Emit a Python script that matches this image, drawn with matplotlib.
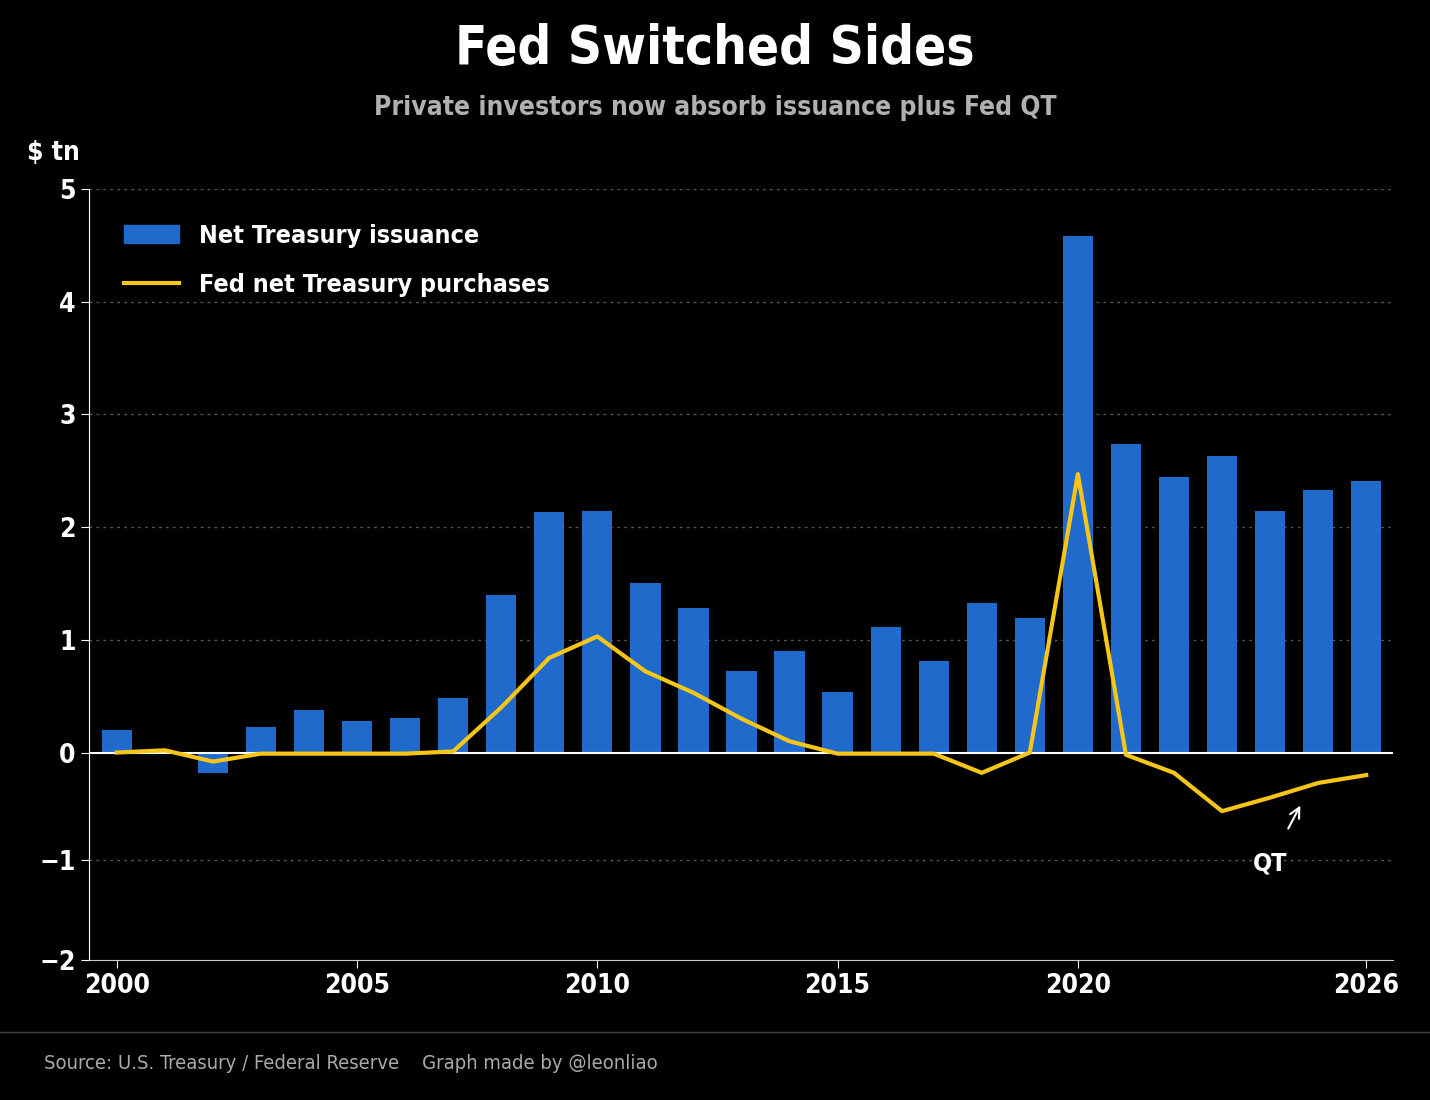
import matplotlib.pyplot as plt
from matplotlib.patches import Patch
from matplotlib.lines import Line2D

years = list(range(2000, 2027))
issuance = [0.20, 0.0, -0.18, 0.23, 0.38, 0.28, 0.31, 0.48, 1.40, 2.13, 2.14, 1.50, 1.28,
            0.72, 0.90, 0.54, 1.11, 0.81, 1.33, 1.19, 4.58, 2.74, 2.44, 2.63, 2.14, 2.33, 2.41]
fed = [0.0, 0.02, -0.08, -0.01, -0.01, -0.01, -0.01, 0.01, 0.40, 0.84, 1.03, 0.72, 0.53,
       0.30, 0.10, -0.01, -0.01, -0.01, -0.18, 0.0, 2.47, -0.02, -0.18, -0.52, -0.40, -0.27, -0.20]

font = dict(family='DejaVu Sans', stretch='condensed')
blue = '#1f6acb'
gold = '#f5c518'

fig = plt.figure(figsize=(14.3, 11), dpi=100, facecolor='black')
ax = fig.add_axes([0.0622, 0.1273, 0.912, 0.701])
ax.set_facecolor('black')

ax.bar(years, issuance, width=0.63, color=blue, zorder=2)
ax.plot(years, fed, color=gold, lw=3, zorder=3)
ax.axhline(0, color='white', lw=1.5, zorder=2.5)

# the reference's axis is slightly compressed below zero; bottom edge is labelled -2
ybottom = -1.84
ax.set_xlim(1999.42, 2026.56)
ax.set_ylim(ybottom, 5)
ax.set_yticks([ybottom, -0.95, 0, 1, 2, 3, 4, 5])
ax.set_yticklabels(['\u22122', '\u22121', '0', '1', '2', '3', '4', '5'])
ax.set_xticks([2000, 2005, 2010, 2015, 2020, 2026])
for y in [-0.95, 1, 2, 3, 4, 5]:
    ax.axhline(y, color='#555555', lw=1, ls=(0, (2, 3)), zorder=1)
for s in ['top', 'right']:
    ax.spines[s].set_visible(False)
ax.spines['left'].set_color('white')
ax.spines['bottom'].set_color('#cccccc')
ax.tick_params(colors='white', labelsize=19, length=6)
for lab in ax.get_xticklabels() + ax.get_yticklabels():
    lab.set_fontstretch('condensed')
    lab.set_fontweight('bold')

handles = [Patch(color=blue), Line2D([], [], color=gold, lw=3)]
leg = ax.legend(handles, ['Net Treasury issuance', 'Fed net Treasury purchases'],
                loc='upper left', frameon=False, labelspacing=1.0,
                handlelength=2.2, borderaxespad=1.0,
                prop=dict(size=18, weight='bold', **font))
for t in leg.get_texts():
    t.set_color('white')

ax.annotate('QT', xy=(2024.63, -0.47), xytext=(2024.0, -0.98), color='white',
            fontsize=18, fontweight='bold', ha='center', va='center', fontfamily='DejaVu Sans',
            fontstretch='condensed',
            arrowprops=dict(arrowstyle='->', color='white', lw=1.5, shrinkA=16, shrinkB=0))

fig.text(0.5, 0.955, 'Fed Switched Sides', color='white', fontsize=38, fontweight='bold',
         ha='center', va='center', **font)
fig.text(0.5, 0.902, 'Private investors now absorb issuance plus Fed QT', color='#b0b0b0',
         fontsize=19, fontweight='bold', ha='center', va='center', **font)
fig.text(0.019, 0.861, '$ tn', color='white', fontsize=19, fontweight='bold', va='center', **font)
fig.add_artist(Line2D([0, 1], [0.062, 0.062], transform=fig.transFigure, color='#444444', lw=1))
fig.text(0.031, 0.033, 'Source: U.S. Treasury / Federal Reserve    Graph made by @leonliao',
         color='#aaaaaa', fontsize=14.5, va='center', **font)

fig.savefig('out.png', dpi=100, facecolor='black')
